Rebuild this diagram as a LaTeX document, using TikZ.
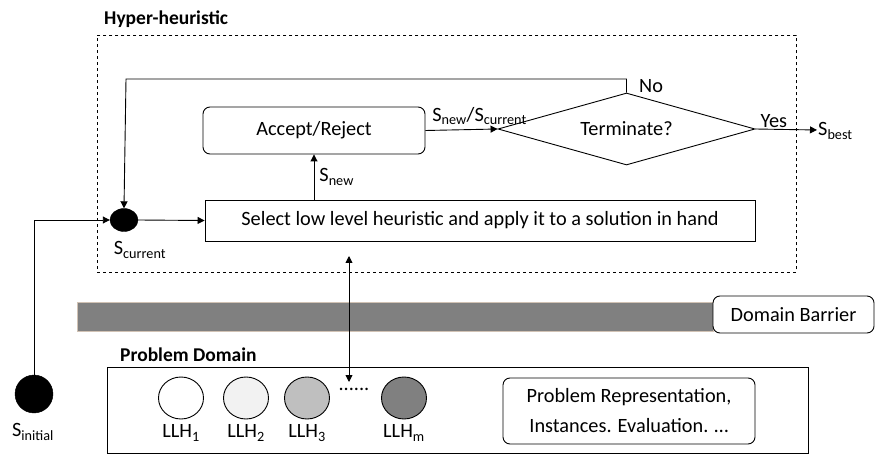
\documentclass[tikz,border=0pt]{standalone}
\usepackage{fontspec}
\setmainfont{Carlito}
\usetikzlibrary{arrows.meta,shapes.geometric,positioning}
\begin{document}
\begin{tikzpicture}[x=1pt,y=-1pt,
  every node/.style={font=\fontsize{20.3}{24}\selectfont},
  arr/.style={line width=0.9pt,-{Triangle[length=7pt,width=7pt]}},
  darr/.style={line width=0.9pt,{Triangle[length=7pt,width=7pt]}-{Triangle[length=7pt,width=7pt]}},
  plainbox/.style={draw,line width=0.9pt,inner sep=0pt},
  roundbox/.style={draw,line width=0.9pt,rounded corners=7pt,inner sep=0pt,align=center},
  llh/.style={draw,line width=0.9pt,ellipse,minimum width=45pt,minimum height=42pt,inner sep=0pt},
  lbl/.style={inner sep=1pt},
  title/.style={font=\fontsize{19.5}{22}\selectfont\bfseries,inner sep=0pt,anchor=west}
]
\useasboundingbox (0,0) rectangle (875,454);
% dashed hyper-heuristic frame
\node[draw,dashed,line width=0.8pt,minimum width=699pt,minimum height=237pt,inner sep=0pt,anchor=north west] (hh) at (97,35) {};
\node[title] (hht) at (104,19) {Hyper-heuristic};
% nodes
\node[plainbox,minimum width=550pt,minimum height=41pt] (sel) at (480,220.5) {Select low level heuristic and apply it to a solution in hand};
\node[roundbox,minimum width=222pt,minimum height=47pt] (acc) at (314,130.5) {Accept/Reject};
\node[draw,line width=0.9pt,diamond,minimum width=257pt,minimum height=72pt,inner sep=0pt] (dia) at (626.5,129) {};
\node[lbl] (diat) at (dia.center) {Terminate?};
\node[draw,fill=black,ellipse,minimum width=28pt,minimum height=23pt,inner sep=0pt] (cur) at (124,220) {};
\node[lbl] (curl) at (140,250) {S\textsubscript{current}};
\node[draw,fill=black,circle,minimum size=38pt,inner sep=0pt] (ini) at (34,394) {};
\node[lbl] (inil) at (33,432) {S\textsubscript{initial}};
\node[lbl,anchor=west] (best) at (817,131) {S\textsubscript{best}};
\coordinate (looptop) at (126,79);
\coordinate (bestin) at (817,130);
% connectors
\draw[arr] (ini.north) -- (ini.north |- cur) -- (cur.west);
\draw[arr] (cur.east) -- (sel.west);
\draw[arr] (sel.north -| acc) -- (acc.south) node[lbl,pos=0.5,right=4pt] (snew) {S\textsubscript{new}};
\draw[arr] (acc.east) -- (dia.west) node[lbl,pos=0.75,above=3pt] (snc) {S\textsubscript{new}/S\textsubscript{current}};
\draw[arr] (dia.north) -- (dia.north |- looptop) -- (looptop) -- (cur.north);
\node[lbl,anchor=west] (no) at (638,86) {No};
\draw[arr] (dia.east) -- (bestin) node[lbl,pos=0.3,above=0pt] (yes) {Yes};
% domain barrier
\node[draw=brown!30!white!75!gray,line width=0.7pt,fill=black!50,minimum width=636pt,minimum height=29pt,inner sep=0pt,anchor=north west] (bar) at (77,302) {};
\node[roundbox,fill=white,minimum width=161pt,minimum height=37pt] (dbar) at (793.5,314.5) {Domain Barrier};
% problem domain
\node[title] (pdt) at (120,355) {Problem Domain};
\node[plainbox,minimum width=701pt,minimum height=86pt,anchor=north west] (pd) at (107,367) {};
\node[llh,fill=white] (l1) at (181,398) {};
\node[llh,fill=black!5] (l2) at (246,398) {};
\node[llh,fill=black!25] (l3) at (307,398) {};
\node[llh,fill=black!50] (lm) at (404,398) {};
\node[lbl] (l1t) at (181,433) {LLH\textsubscript{1}};
\node[lbl] (l2t) at (246,433) {LLH\textsubscript{2}};
\node[lbl] (l3t) at (307,433) {LLH\textsubscript{3}};
\node[lbl] (lmt) at (404,433) {LLH\textsubscript{m}};
\node[lbl] (dots) at (354,389) {......};
\node[roundbox,minimum width=252pt,minimum height=66pt,font=\fontsize{20.3}{30}\selectfont] (rep) at (629,411) {Problem Representation,\\Instances. Evaluation. \dots};
\coordinate (dtop) at (349,256);
\coordinate (dbot) at (349,382);
\draw[darr] (dtop) -- (dbot);
\end{tikzpicture}
\end{document}
